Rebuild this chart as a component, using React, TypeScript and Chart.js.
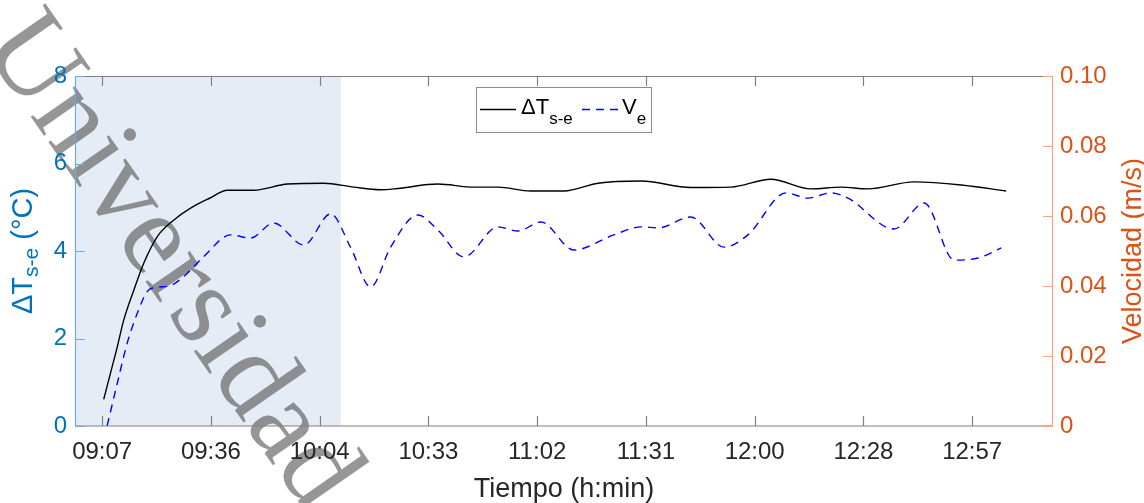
import { useEffect, useRef } from 'react';
import { Chart, registerables } from 'chart.js';

Chart.register(...registerables);

// Time axis is expressed in minutes after midnight.
const tickMinutes = [547.2, 576.0, 604.8, 633.6, 662.4, 691.2, 720.0, 748.8, 777.6];
const tickLabels = ['09:07', '09:36', '10:04', '10:33', '11:02', '11:31', '12:00', '12:28', '12:57'];

const tempTicks = [0, 2, 4, 6, 8];
const velTicks = [0, 0.02, 0.04, 0.06, 0.08, 0.1];

// ΔT s-e (°C)
const tempTime = [
  547.6, 549.4, 551.2, 552.9, 555.6, 558.2, 561.8, 566.2, 570.6, 575.5,
  580.4, 587.3, 596.3, 605.9, 613.8, 620.9, 625.5, 636.1, 645.6, 652.0,
  660.7, 669.5, 678.5, 689.9, 703.1, 713.7, 724.3, 734.9, 742.9, 750.0,
  762.2, 774.7, 786.6,
];
const tempValues = [
  0.61, 1.21, 1.81, 2.42, 3.11, 3.72, 4.33, 4.71, 4.98, 5.2,
  5.39, 5.39, 5.53, 5.55, 5.46, 5.4, 5.43, 5.53, 5.46, 5.46,
  5.37, 5.37, 5.55, 5.6, 5.45, 5.46, 5.64, 5.42, 5.46, 5.42,
  5.58, 5.51, 5.37,
];

// Ve (m/s)
const velTime = [
  548.5, 551.2, 553.8, 556.5, 559.1, 561.3, 564.9, 568.8, 574.1, 581.2,
  586.5, 592.6, 600.6, 607.7, 613.0, 618.3, 623.6, 630.8, 636.1, 643.0,
  652.0, 657.3, 663.4, 672.1, 682.7, 689.9, 694.4, 703.1, 711.9, 718.2,
  728.3, 734.1, 740.2, 744.7, 756.9, 764.9, 772.8, 779.2, 785.3,
];
const velValues = [
  0, 0.0122, 0.0236, 0.0322, 0.0384, 0.0396, 0.04, 0.0427, 0.0484, 0.0546,
  0.0537, 0.058, 0.0517, 0.0606, 0.051, 0.0397, 0.0511, 0.0603, 0.056, 0.0483,
  0.0569, 0.0557, 0.0583, 0.0503, 0.0546, 0.0569, 0.0566, 0.0597, 0.0511, 0.0546,
  0.0666, 0.0651, 0.0666, 0.0651, 0.0563, 0.0637, 0.0474, 0.048, 0.0509,
];

// Highlighted start-up interval
const shadeStart = 540;
const shadeEnd = 610.4;

const SANS = '"Liberation Sans", Arial, sans-serif';
const BLUE = '#0072BD';
const ORANGE = '#D95319';

type Seg = { t: string; sub?: boolean };

function drawRich(
  ctx: CanvasRenderingContext2D,
  segs: Seg[],
  x: number,
  baseline: number,
  size: number,
  subSize: number,
  subShift: number,
  color: string,
  align: 'left' | 'center',
) {
  ctx.save();
  ctx.fillStyle = color;
  ctx.textBaseline = 'alphabetic';
  ctx.textAlign = 'left';
  const widths = segs.map((s) => {
    ctx.font = `${s.sub ? subSize : size}px ${SANS}`;
    return ctx.measureText(s.t).width;
  });
  const total = widths.reduce((a, b) => a + b, 0);
  let cx = align === 'center' ? x - total / 2 : x;
  segs.forEach((s, i) => {
    ctx.font = `${s.sub ? subSize : size}px ${SANS}`;
    ctx.fillText(s.t, cx, baseline + (s.sub ? subShift : 0));
    cx += widths[i];
  });
  ctx.restore();
}

const decorPlugin = {
  id: 'decor',
  beforeDraw(chart: any) {
    const { ctx, chartArea: a, scales } = chart;
    const x = scales.x;
    ctx.save();
    const x0 = x.getPixelForValue(shadeStart);
    const x1 = x.getPixelForValue(shadeEnd);
    ctx.fillStyle = '#e5ecf6';
    ctx.fillRect(x0, a.top, x1 - x0, a.bottom - a.top);

    // watermark
    ctx.translate(-19, 45);
    ctx.rotate((55.2 * Math.PI) / 180);
    ctx.font = '117px "Liberation Serif", "Times New Roman", serif';
    ctx.fillStyle = 'rgba(80,80,80,0.6)';
    ctx.textBaseline = 'alphabetic';
    ctx.fillText('Universidad', 0, 0);
    ctx.restore();
  },
  afterDatasetsDraw(chart: any) {
    const { ctx, chartArea: a, scales } = chart;
    const tl = 10;
    ctx.save();
    ctx.lineWidth = 1.2;
    // top and bottom borders with inward ticks
    ctx.strokeStyle = '#808080';
    ctx.beginPath();
    ctx.moveTo(a.left, a.top + 0.5);
    ctx.lineTo(a.right, a.top + 0.5);
    ctx.moveTo(a.left, a.bottom);
    ctx.lineTo(a.right, a.bottom);
    tickMinutes.forEach((v) => {
      const px = Math.round(scales.x.getPixelForValue(v)) + 0.5;
      ctx.moveTo(px, a.bottom);
      ctx.lineTo(px, a.bottom - tl);
      ctx.moveTo(px, a.top);
      ctx.lineTo(px, a.top + tl);
    });
    ctx.stroke();
    // left axis
    ctx.strokeStyle = 'rgb(110,172,222)';
    ctx.beginPath();
    ctx.moveTo(a.left + 0.5, a.top);
    ctx.lineTo(a.left + 0.5, a.bottom);
    tempTicks.forEach((v) => {
      const py = Math.round(scales.yT.getPixelForValue(v)) + 0.5;
      ctx.moveTo(a.left, py);
      ctx.lineTo(a.left + tl, py);
    });
    ctx.stroke();
    // right axis
    ctx.strokeStyle = 'rgb(240,165,135)';
    ctx.beginPath();
    ctx.moveTo(a.right - 0.5, a.top);
    ctx.lineTo(a.right - 0.5, a.bottom);
    velTicks.forEach((v) => {
      const py = Math.round(scales.yV.getPixelForValue(v)) + 0.5;
      ctx.moveTo(a.right, py);
      ctx.lineTo(a.right - tl, py);
    });
    ctx.stroke();
    ctx.restore();
  },
  afterDraw(chart: any) {
    const { ctx, chartArea: a } = chart;
    // axis titles
    drawRich(ctx, [{ t: 'Tiempo (h:min)' }], (a.left + a.right) / 2, 497, 27, 19, 0, '#262626', 'center');

    const midY = (a.top + a.bottom) / 2;
    ctx.save();
    ctx.translate(21, midY);
    ctx.rotate(-Math.PI / 2);
    drawRich(ctx, [{ t: 'ΔT' }, { t: 's-e', sub: true }, { t: ' (°C)' }], 0, 11, 29, 21, 6, BLUE, 'center');
    ctx.restore();

    ctx.save();
    ctx.translate(1131, midY);
    ctx.rotate(-Math.PI / 2);
    drawRich(ctx, [{ t: 'Velocidad (m/s)' }], 0, 10, 27, 19, 0, ORANGE, 'center');
    ctx.restore();

    // legend
    ctx.save();
    ctx.fillStyle = '#ffffff';
    ctx.fillRect(476.5, 87.5, 175, 45);
    ctx.strokeStyle = '#8c8c8c';
    ctx.lineWidth = 1;
    ctx.strokeRect(476.5, 87.5, 175, 45);
    ctx.lineWidth = 1.4;
    ctx.strokeStyle = '#000000';
    ctx.beginPath();
    ctx.moveTo(480, 109.5);
    ctx.lineTo(516, 109.5);
    ctx.stroke();
    ctx.strokeStyle = '#0000ff';
    ctx.setLineDash([8, 6]);
    ctx.beginPath();
    ctx.moveTo(582, 109.5);
    ctx.lineTo(618, 109.5);
    ctx.stroke();
    ctx.restore();
    drawRich(ctx, [{ t: 'ΔT' }, { t: 's-e', sub: true }], 521, 114, 22, 17, 10, '#000000', 'left');
    drawRich(ctx, [{ t: 'V' }, { t: 'e', sub: true }], 622, 114, 22, 17, 10, '#000000', 'left');
  },
};

export default function App() {
  const ref = useRef<HTMLCanvasElement | null>(null);

  useEffect(() => {
    if (!ref.current) return;
    const chart = new Chart(ref.current, {
      type: 'line',
      data: {
        datasets: [
          {
            label: 'ΔT s-e',
            data: tempTime.map((t, i) => ({ x: t, y: tempValues[i] })),
            yAxisID: 'yT',
            borderColor: '#000000',
            borderWidth: 1.4,
            pointRadius: 0,
            fill: false,
            cubicInterpolationMode: 'monotone',
          },
          {
            label: 'Ve',
            data: velTime.map((t, i) => ({ x: t, y: velValues[i] })),
            yAxisID: 'yV',
            borderColor: '#0000ff',
            borderWidth: 1.4,
            borderDash: [8, 6],
            pointRadius: 0,
            fill: false,
            cubicInterpolationMode: 'monotone',
          },
        ],
      },
      options: {
        animation: false,
        responsive: true,
        maintainAspectRatio: false,
        layout: { padding: { top: 76, left: 0, right: 0, bottom: 0 } },
        plugins: { legend: { display: false }, tooltip: { enabled: false }, title: { display: false } },
        scales: {
          x: {
            type: 'linear',
            min: 540,
            max: 799,
            afterBuildTicks: (s: any) => {
              s.ticks = tickMinutes.map((v) => ({ value: v }));
            },
            afterFit: (s: any) => {
              s.height = 77;
            },
            ticks: {
              autoSkip: false,
              maxRotation: 0,
              padding: 12,
              color: '#262626',
              font: { family: SANS, size: 24 },
              callback: (_v: any, i: number) => tickLabels[i],
            },
            grid: { display: false, drawTicks: false },
            border: { display: false },
          },
          yT: {
            type: 'linear',
            position: 'left',
            min: 0,
            max: 8,
            afterBuildTicks: (s: any) => {
              s.ticks = tempTicks.map((v) => ({ value: v }));
            },
            afterFit: (s: any) => {
              s.width = 75;
            },
            ticks: {
              padding: 8,
              color: BLUE,
              font: { family: SANS, size: 24 },
              callback: (v: any) => String(v),
            },
            grid: { display: false, drawTicks: false },
            border: { display: false },
          },
          yV: {
            type: 'linear',
            position: 'right',
            min: 0,
            max: 0.1,
            afterBuildTicks: (s: any) => {
              s.ticks = velTicks.map((v) => ({ value: v }));
            },
            afterFit: (s: any) => {
              s.width = 91;
            },
            ticks: {
              padding: 7,
              color: ORANGE,
              font: { family: SANS, size: 24 },
              callback: (v: any) => (Number(v) === 0 ? '0' : Number(v).toFixed(2)),
            },
            grid: { display: false, drawTicks: false },
            border: { display: false },
          },
        },
      },
      plugins: [decorPlugin],
    } as any);
    return () => chart.destroy();
  }, []);

  return (
    <div style={{ position: 'fixed', left: 0, top: 0, width: 1144, height: 503, background: '#ffffff' }}>
      <canvas ref={ref} />
    </div>
  );
}
